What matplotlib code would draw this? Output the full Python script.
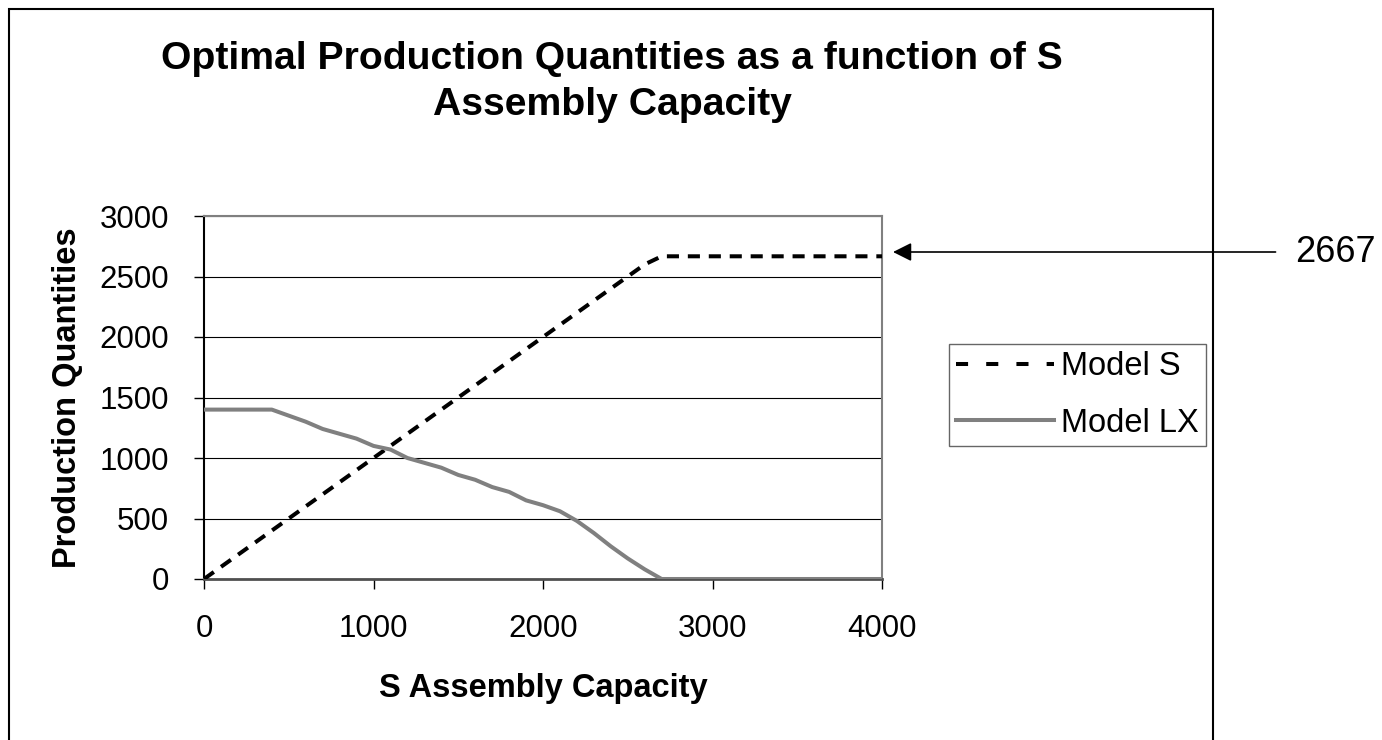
import matplotlib
matplotlib.use("Agg")
import matplotlib.pyplot as plt
from matplotlib.patches import Rectangle
from matplotlib.lines import Line2D

plt.rcParams['font.family'] = ['Liberation Sans', 'DejaVu Sans']

# S assembly capacity (x) in steps of 100
capacity = [0, 100, 200, 300, 400, 500, 600, 700, 800, 900,
            1000, 1100, 1200, 1300, 1400, 1500, 1600, 1700, 1800, 1900,
            2000, 2100, 2200, 2300, 2400, 2500, 2600, 2700, 2800, 2900,
            3000, 3100, 3200, 3300, 3400, 3500, 3600, 3700, 3800, 3900, 4000]

model_s = [0, 100, 200, 300, 400, 500, 600, 700, 800, 900,
           1000, 1100, 1200, 1300, 1400, 1500, 1600, 1700, 1800, 1900,
           2000, 2100, 2200, 2300, 2400, 2500, 2600, 2667, 2667, 2667,
           2667, 2667, 2667, 2667, 2667, 2667, 2667, 2667, 2667, 2667, 2667]

model_lx = [1400, 1400, 1400, 1400, 1400, 1350, 1300, 1240, 1200, 1160,
            1100, 1070, 1000, 960, 920, 860, 820, 760, 720, 650,
            610, 560, 480, 380, 270, 170, 80, 0, 0, 0,
            0, 0, 0, 0, 0, 0, 0, 0, 0, 0, 0]

y_ticks = [0, 500, 1000, 1500, 2000, 2500, 3000]
x_ticks = [0, 1000, 2000, 3000, 4000]

W, H = 1382, 740
fig = plt.figure(figsize=(W / 100, H / 100), dpi=100)
ax = fig.add_axes([204 / W, 1 - 579 / H, (882 - 204) / W, (579 - 216) / H])

ax.plot(capacity, model_s, color='black', lw=2.9, dashes=(3, 2.2), zorder=3)
ax.plot(capacity, model_lx, color='#808080', lw=2.9, zorder=3,
        solid_joinstyle='round')

ax.set_xlim(0, 4000)
ax.set_ylim(0, 3000)
ax.set_xticks(x_ticks)
ax.set_yticks(y_ticks)
ax.grid(axis='y', color='black', lw=0.8, zorder=1)
ax.tick_params(axis='both', labelsize=22.5, direction='out', length=7,
               width=1, color='black', pad=18)

for side in ['top', 'right']:
    ax.spines[side].set_color('#808080')
    ax.spines[side].set_linewidth(1.5)
ax.spines['left'].set_color('black')
ax.spines['left'].set_linewidth(1.5)
ax.spines['bottom'].set_color('#505050')
ax.spines['bottom'].set_linewidth(2)

ax.set_xlabel('S Assembly Capacity', fontsize=23.5, fontweight='bold',
              labelpad=21)
ax.set_ylabel('Production Quantities', fontsize=23.5, fontweight='bold',
              labelpad=12)

fig.text(612 / W, 1 - 82 / H,
         'Optimal Production Quantities as a function of S\nAssembly Capacity',
         ha='center', va='center', fontsize=28.2, fontweight='bold',
         linespacing=1.38)

handles = [Line2D([], [], color='black', lw=2.9, dashes=(3, 4.5)),
           Line2D([], [], color='#808080', lw=2.9)]
leg = ax.legend(handles, ['Model S', 'Model LX'], loc='upper left',
                bbox_to_anchor=(949 / W, 1 - 344 / H),
                bbox_transform=fig.transFigure, fontsize=23.5, frameon=True,
                fancybox=False, handlelength=3.0, handletextpad=0.2,
                labelspacing=0.78, borderpad=0.22, borderaxespad=0)
leg.get_frame().set_edgecolor('#404040')
leg.get_frame().set_linewidth(1.0)

# callout for the Model S plateau
ax.annotate('2667', xy=(893 / W, 1 - 252 / H), xycoords='figure fraction',
            xytext=(1295 / W, 1 - 252 / H), textcoords='figure fraction',
            ha='left', va='center', fontsize=26,
            arrowprops=dict(arrowstyle='-|>', color='black', lw=1.2,
                            mutation_scale=28, shrinkA=12, shrinkB=0))

# outer chart border
fig.add_artist(Rectangle((9 / W, -0.05), (1213 - 9) / W, 1.05 - 9 / H,
                         transform=fig.transFigure, fill=False,
                         edgecolor='black', lw=1.5, clip_on=False))

fig.savefig('out.png', dpi=100)
